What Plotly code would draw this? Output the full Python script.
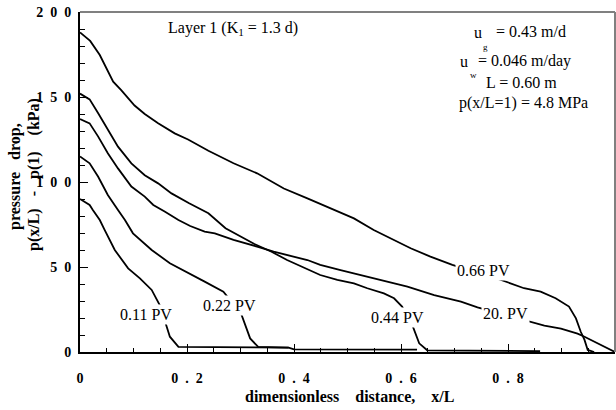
import plotly.graph_objects as go

# ---- data ----
x_011 = [0, 0.018, 0.024, 0.037, 0.046, 0.065, 0.09, 0.112, 0.134, 0.149, 0.16, 0.168, 0.184, 0.39]
y_011 = [90, 86.5, 83.5, 77.6, 71.8, 60, 49.2, 43.3, 36.5, 27.6, 16.9, 9, 3, 2.6]

x_022 = [0, 0.018, 0.034, 0.052, 0.071, 0.084, 0.099, 0.134, 0.168, 0.202, 0.233, 0.268, 0.301, 0.318, 0.333, 0.39, 0.40, 0.63]
y_022 = [115, 111, 103.1, 92.4, 83.5, 77.6, 69.8, 60, 52.2, 46.3, 41.4, 35.5, 22.7, 8, 3, 2.6, 1.6, 1.4]

x_044 = [0, 0.018, 0.034, 0.052, 0.071, 0.096, 0.121, 0.146, 0.171, 0.204, 0.24, 0.272, 0.326, 0.358, 0.387,
         0.449, 0.481, 0.512, 0.537, 0.568, 0.587, 0.602, 0.621, 0.634, 0.649, 0.86]
y_044 = [152, 148.6, 140.4, 130.6, 120.8, 111, 104, 99.2, 93.3, 87.5, 81.6, 72.8, 63.5, 59, 54.1,
         45.3, 42.4, 40.4, 37.5, 34.5, 31.6, 26.7, 15.9, 5.1, 1, 0.5]

x_066 = [0, 0.019, 0.037, 0.062, 0.077, 0.102, 0.121, 0.146, 0.177, 0.202, 0.24, 0.287, 0.331, 0.381, 0.425,
         0.468, 0.512, 0.549, 0.581, 0.618, 0.655, 0.696, 0.787, 0.83, 0.861, 0.889, 0.914, 0.927, 0.936,
         0.943, 0.949, 0.961]
y_066 = [188, 183, 174.7, 159, 154, 145, 140, 134.5, 128.6, 125, 118.4, 111, 105.1, 96.2, 90.4,
         84.5, 78.6, 71.8, 66.9, 61, 56.1, 51.2, 42.4, 37.5, 35.5, 31.6, 26.7, 19.8, 11.9,
         7.1, 1.2, 0]

x_20 = [0, 0.018, 0.034, 0.052, 0.071, 0.096, 0.121, 0.137, 0.159, 0.184, 0.206, 0.233, 0.252, 0.287, 0.331,
        0.362, 0.425, 0.449, 0.487, 0.524, 0.574, 0.612, 0.662, 0.712, 0.743, 0.843, 0.868, 0.899, 0.93,
        0.943, 0.97, 1.0]
y_20 = [137, 134.5, 126.7, 116.9, 108, 97.3, 91.4, 86.5, 82.5, 77.6, 74.1, 70.8, 69.8, 65.9, 62,
        59, 54.1, 51.2, 48.2, 45.3, 41.4, 38.4, 33.5, 29.6, 26.3, 17.8, 15.5, 13.8, 10.8,
        9, 4.8, 0]

series = [(x_011, y_011), (x_022, y_022), (x_044, y_044), (x_066, y_066), (x_20, y_20)]
curve_labels = ["0.11 PV", "0.22 PV", "0.44 PV", "0.66 PV", "20. PV"]
label_x = [0.124, 0.279, 0.593, 0.754, 0.796]
label_y = [21.8, 27.6, 20.3, 48.2, 22.9]

NB = "\u00a0"
x_ticks = [0, 0.2, 0.4, 0.6, 0.8, 1.0]
x_ticktext = ["0", "0" + NB * 2 + "." + NB * 2 + "2", "0" + NB * 2 + "." + NB * 2 + "4",
              "0" + NB * 2 + "." + NB * 2 + "6", "0" + NB * 2 + "." + NB * 2 + "8", "1"]
y_ticks = [0, 50, 100, 150, 200]
y_ticktext = ["0", "5" + NB * 2 + "0", "1" + NB * 2 + "0" + NB * 2 + "0",
              "1" + NB * 2 + "5" + NB * 2 + "0", "2" + NB * 2 + "0" + NB * 2 + "0"]

SERIF = "Liberation Serif"

fig = go.Figure()
for (xs, ys) in series:
    fig.add_trace(go.Scatter(x=xs, y=ys, mode="lines",
                             line=dict(color="black", width=1.8), showlegend=False))

annotations = []
for t, lx, ly in zip(curve_labels, label_x, label_y):
    annotations.append(dict(x=lx, y=ly, xref="x", yref="y", text=t, showarrow=False,
                            font=dict(family=SERIF, size=16, color="black"),
                            bgcolor="white", borderpad=1, xanchor="center", yanchor="middle"))


def px2x(px):
    return (px - 80) / 534.0


def py2y(py):
    return (352 - py) / 1.7


txt = dict(family=SERIF, size=16, color="black")
small = dict(family=SERIF, size=9, color="black")
info = [
    (233, 28, "Layer 1 (K<sub>1</sub> = 1.3 d)", txt, "center"),
    (483, 32, "u", txt, "right"),
    (493, 31, "= 0.43 m/d", txt, "left"),
    (485, 47, "g", small, "center"),
    (469, 61, "u", txt, "right"),
    (475, 61, "= 0.046 m/day", txt, "left"),
    (473, 75, "w", small, "center"),
    (521, 82, "L = 0.60 m", txt, "center"),
    (523, 103, "p(x/L=1) = 4.8 MPa", txt, "center"),
]
for px, py, t, f, anc in info:
    annotations.append(dict(x=px2x(px), y=py2y(py), xref="x", yref="y", text=t, font=f,
                            showarrow=False, xanchor=anc, yanchor="middle"))

bold = dict(family=SERIF, size=16, color="black", weight="bold")
annotations += [
    dict(x=(350 - 80) / 535, y=(352 - 396) / 340, xref="paper", yref="paper",
         text="dimensionless" + NB * 3 + " distance," + NB * 3 + " x/L", showarrow=False, font=bold,
         xanchor="center", yanchor="middle"),
    dict(x=(15 - 80) / 535, y=(352 - 177) / 340, xref="paper", yref="paper",
         text="pressure" + NB * 2 + " drop,", showarrow=False, font=bold, textangle=-90,
         xanchor="center", yanchor="middle"),
    dict(x=(34 - 80) / 535, y=(352 - 175) / 340, xref="paper", yref="paper",
         text="p(x/L)" + NB * 2 + " -" + NB * 2 + " p(1)" + NB * 3 + " (kPa)", showarrow=False,
         font=bold, textangle=-90, xanchor="center", yanchor="middle"),
]

tickfont = dict(family=SERIF, size=14, color="black", weight="bold")
fig.update_layout(
    width=616, height=410,
    margin=dict(l=80, r=1, t=12, b=58, autoexpand=False),
    paper_bgcolor="white", plot_bgcolor="white",
    annotations=annotations,
    shapes=[
        dict(type="line", xref="paper", yref="paper", x0=0, x1=1, y0=1, y1=1,
             line=dict(color="#808080", width=2)),
        dict(type="line", xref="paper", yref="paper", x0=1, x1=1, y0=0, y1=1,
             line=dict(color="#808080", width=2)),
    ],
    xaxis=dict(range=[0, 1], showgrid=False, zeroline=False, showline=True, linecolor="black",
               linewidth=2, ticks="inside", ticklen=8, tickcolor="black", tickwidth=1,
               tickvals=x_ticks, ticktext=x_ticktext, tickfont=tickfont, ticklabelstandoff=12,
               automargin=False,
               minor=dict(dtick=0.05, ticks="inside", ticklen=4, tickcolor="black", tickwidth=1)),
    yaxis=dict(range=[0, 200], showgrid=False, zeroline=False, showline=True, linecolor="black",
               linewidth=2, ticks="inside", ticklen=8, tickcolor="black", tickwidth=1,
               tickvals=y_ticks, ticktext=y_ticktext, tickfont=tickfont, ticklabelstandoff=4,
               automargin=False,
               minor=dict(dtick=10, ticks="inside", ticklen=5, tickcolor="black", tickwidth=1)),
)

fig.write_html("out.html", config={"displayModeBar": False},
               post_script="document.body.style.margin='0px';")
